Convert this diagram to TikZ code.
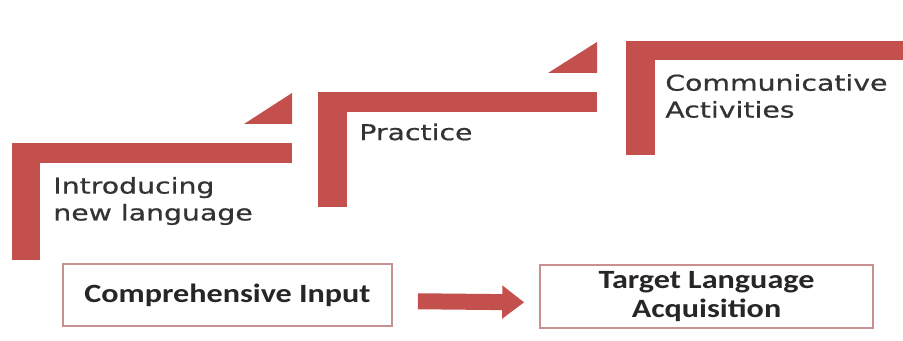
\documentclass[tikz,border=0pt]{standalone}
\usepackage{fontspec}
\setmainfont{DejaVu Sans}
\newfontfamily\stepfont[FakeStretch=1.3,FakeBold=0.6]{DejaVu Sans}
\newfontfamily\boxfont[FakeStretch=1.22]{Carlito}
\usepackage{tikz}
\usetikzlibrary{positioning,arrows.meta}
\definecolor{stepred}{HTML}{C4504E}
\definecolor{boxline}{HTML}{C89090}
\definecolor{txtgray}{HTML}{333333}

\begin{document}
\begin{tikzpicture}[x=0.02cm, y=-0.02cm,
bar/.style={fill=stepred, draw=none},
steplabel/.style={anchor=west, align=left, inner sep=0pt, text=txtgray, font=\stepfont\fontsize{12.4}{15.3}\selectfont},
outbox/.style={draw=boxline, line width=1pt, align=center, inner sep=0pt, text=black!85, font=\boxfont\bfseries\fontsize{15}{16.2}\selectfont},
]
\fill[white] (0,0) rectangle (903,341);
\useasboundingbox (0,0) rectangle (903,341);

\fill[bar] (12,143) rectangle (292,163);
\fill[bar] (12,143) rectangle (40,260);
\fill[bar] (244,124) -- (292,93) -- (292,124) -- cycle;

\fill[bar] (318,92) rectangle (597,112);
\fill[bar] (318,92) rectangle (347,207);
\fill[bar] (548,73) -- (597,42) -- (597,73) -- cycle;

\fill[bar] (626,41) rectangle (903,60);
\fill[bar] (626,41) rectangle (655,155);

\node[steplabel] (intro) at (53,201) {Introducing\\new language};
\node[steplabel] (prac) at (359,132) {Practice};
\node[steplabel] (comm) at (665,96) {Communicative\\Activities};

\node[outbox, minimum width=6.58cm, minimum height=1.24cm] (input) at (227.5,295) {Comprehensive Input};
\node[outbox, minimum width=6.66cm, minimum height=1.26cm] (acq) at (706.5,296.5) {Target Language\\Acquisition};

\draw[stepred, line width=0.32cm, -{Triangle[width=0.64cm,length=0.44cm]}, shorten <=0.5cm, shorten >=0.3cm] ([yshift=-0.12cm]input.east) -- ([yshift=-0.12cm]acq.west);
\end{tikzpicture}
\end{document}
